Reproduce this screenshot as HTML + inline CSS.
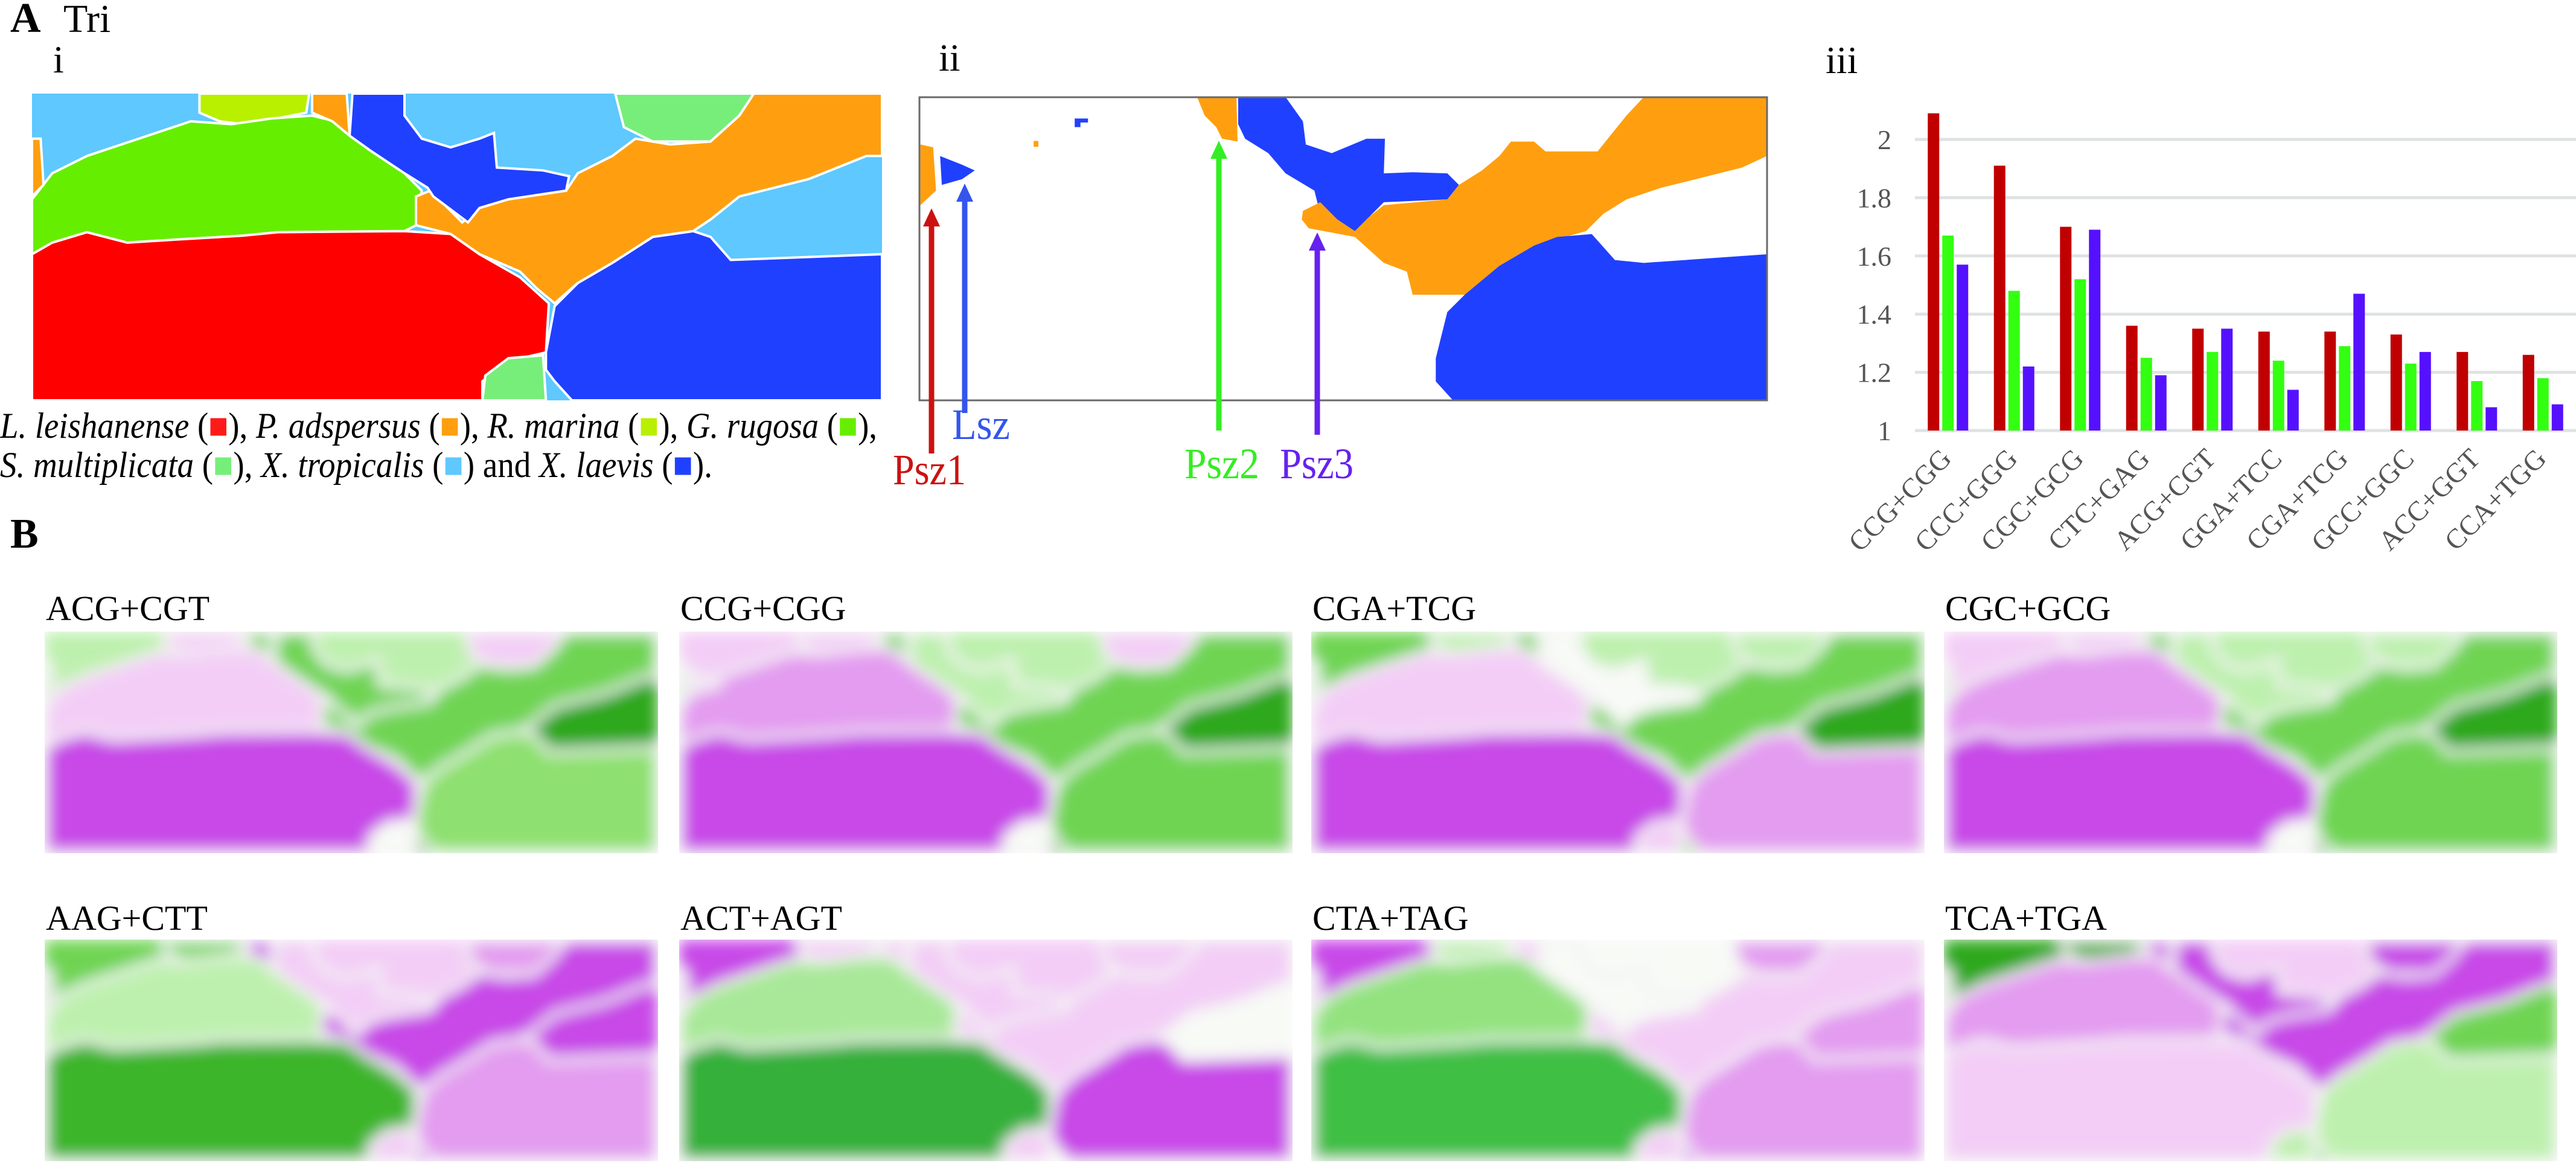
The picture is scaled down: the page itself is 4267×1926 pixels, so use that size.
<!DOCTYPE html>
<html><head><meta charset="utf-8"><style>
html,body{margin:0;padding:0;background:#fff;}
svg{display:block;font-family:"Liberation Serif",serif;}
svg text{font-family:"Liberation Serif",serif;}
</style></head><body>
<svg id="fig" width="4267" height="1926" viewBox="0 0 4267 1926" xmlns="http://www.w3.org/2000/svg">
<defs>
<filter id="blur" x="-5%" y="-5%" width="110%" height="110%"><feGaussianBlur stdDeviation="12"/></filter>
</defs>
<text x="17" y="53" font-size="70" font-weight="bold">A</text>
<text x="105" y="53" font-size="66">Tri</text>
<text x="88" y="120" font-size="64">i</text>
<text x="1555" y="117" font-size="64">ii</text>
<text x="3024" y="121" font-size="64">iii</text>
<text x="17" y="907" font-size="70" font-weight="bold">B</text>
<g id="mapi"></g>
<g id="mapii"></g>
<g id="legend">
<text x="0" y="725" font-size="60" textLength="1453" lengthAdjust="spacingAndGlyphs"><tspan font-style="italic">L. leishanense</tspan> (<tspan fill="#ff1a1a">■</tspan>), <tspan font-style="italic">P. adspersus</tspan> (<tspan fill="#ff9f10">■</tspan>), <tspan font-style="italic">R. marina</tspan> (<tspan fill="#b8f000">■</tspan>), <tspan font-style="italic">G. rugosa</tspan> (<tspan fill="#66ee00">■</tspan>),</text>
<text x="0" y="790" font-size="60" textLength="1180" lengthAdjust="spacingAndGlyphs"><tspan font-style="italic">S. multiplicata</tspan> (<tspan fill="#77ee7a">■</tspan>), <tspan font-style="italic">X. tropicalis</tspan> (<tspan fill="#5ec8ff">■</tspan>) and <tspan font-style="italic">X. laevis</tspan> (<tspan fill="#2040ff">■</tspan>).</text>
</g>
<g id="arrows"></g>
<g id="bars"></g>
<g id="heat"></g>
</svg>
<script>
// ---- bar chart data ----
const categories = ["CCG+CGG","CCC+GGG","CGC+GCG","CTC+GAG","ACG+CGT","GGA+TCC","CGA+TCG","GCC+GGC","ACC+GGT","CCA+TGG"];
const seriesRed = [2.09,1.91,1.70,1.36,1.35,1.34,1.34,1.33,1.27,1.26];
const seriesGreen = [1.67,1.48,1.52,1.25,1.27,1.24,1.29,1.23,1.17,1.18];
const seriesPurple = [1.57,1.22,1.69,1.19,1.35,1.14,1.47,1.27,1.08,1.09];
const yTicks = [1,1.2,1.4,1.6,1.8,2];
const heatLabels = ["ACG+CGT","CCG+CGG","CGA+TCG","CGC+GCG","AAG+CTT","ACT+AGT","CTA+TAG","TCA+TGA"];

const NS="http://www.w3.org/2000/svg";
function mk(tag,attrs,parent){const e=document.createElementNS(NS,tag);for(const k in attrs)e.setAttribute(k,attrs[k]);parent.appendChild(e);return e;}

const X0=3172,X1=4267,Y0=713,Y1=231;
const yScale=v=>Y0+(v-1)*(Y1-Y0)/(2-1);
const band=(X1-X0)/categories.length;
const xBand=i=>X0+i*band;
const bars=document.getElementById('bars');
yTicks.forEach(t=>{
  const l=mk('line',{x1:X0,x2:X1,y1:yScale(t),y2:yScale(t),stroke:'#dfe2e2','stroke-width':5},bars);
  
  
  const tx=mk('text',{x:3133,y:yScale(t)+16,'font-size':46,fill:'#555','text-anchor':'end'},bars);
  
  
  tx.textContent=t;
});
const series=[[seriesRed,'#c00000'],[seriesGreen,'#33ff11'],[seriesPurple,'#5511ff']];
const bw=19,stride=24;
categories.forEach((c,i)=>{
  const cx=xBand(i)+band/2;
  series.forEach(([arr,col],j)=>{
    const x=cx-stride-bw/2+j*stride;
    const y=yScale(arr[i]);
    const r=mk('rect',{x:x,y:y,width:bw,height:Y0-y,fill:col},bars);
    
    
  });
  const t=mk('text',{x:0,y:0,'font-size':46,fill:'#555','text-anchor':'end',transform:`translate(${cx+8},${762}) rotate(-45)`},bars);
  
  
  t.textContent=c;
});

function norm(pts){const o=[];for(let i=0;i<pts.length;i+=2)o.push([(pts[i]-55)/1472,(pts[i+1]-162)/531]);return o;}
const regions={
 red:norm([55,440,90,420,150,402,220,420,300,415,420,408,480,402,700,400,780,405,830,440,900,480,950,525,945,610,880,625,835,660,835,693,55,693]),
 smultBot:norm([835,693,840,650,880,620,940,615,945,693]),
 smultTop:norm([1065,162,1305,162,1280,200,1230,245,1130,245,1080,220]),
 blueBR:norm([945,610,960,530,1000,490,1060,455,1130,410,1200,400,1230,410,1265,450,1527,440,1527,693,990,693,960,660,945,640]),
 orange:norm([720,340,745,330,800,385,830,360,880,345,980,330,1000,300,1060,270,1100,240,1160,250,1230,245,1280,200,1305,162,1527,162,1527,270,1500,270,1400,310,1360,320,1280,340,1230,380,1200,400,1130,410,1060,455,1000,490,960,525,930,500,900,470,830,440,780,405,720,390]),
 orangeL:norm([55,240,70,240,75,320,55,340]),
 orangeT:norm([540,162,600,162,605,235,575,210,540,195]),
 rugosa:norm([55,345,90,300,150,270,240,240,330,210,400,215,470,205,540,200,580,210,640,260,700,300,730,330,720,390,700,400,480,402,420,408,300,415,220,420,150,402,90,420,55,440]),
 marina:norm([345,162,535,162,530,195,480,205,420,215,380,210,345,195]),
 blueUp:norm([610,162,700,162,700,200,730,240,780,255,830,240,855,230,860,290,940,295,985,305,980,330,880,345,830,360,810,385,790,370,750,340,740,325,700,300,640,260,605,235]),
 blueL:norm([90,260,140,280,150,290,100,305,88,300])
};
const order=['marina','rugosa','red','smultBot','smultTop','blueBR','orange','orangeL','orangeT','blueUp','blueL'];
const skyRects={skyTL:[0,0,0.4,0.5],skyMid:[0.4,0,0.35,0.45],skyR:[0.7,0,0.3,1]};
function drawRegions(g,x,y,w,h,colors,base,stroke,sw){
  const bg=mk('rect',{x:x,y:y,width:w,height:h,fill:base},g);
  
  
  for(const k in skyRects){
    if(!colors[k])continue;
    const [a,b,c,d]=skyRects[k];
    const r=mk('rect',{x:x+a*w,y:y+b*h,width:c*w,height:d*h,fill:colors[k]},g);
    
    
  }
  order.forEach(k=>{
    const key=k.replace(/[LT]$/,'');
    const col=colors[k]||colors[key];
    if(!col)return;
    const p=mk('polygon',{points:regions[k].map(([a,b])=>(x+a*w).toFixed(1)+','+(y+b*h).toFixed(1)).join(' '),fill:col},g);
    if(stroke){p.setAttribute('stroke',stroke);p.setAttribute('stroke-width',sw);}
    
    
  });
}
drawRegions(document.getElementById('mapi'),53,155,1408,508,{
 red:'#ff0000',smultBot:'#77ee7a',smultTop:'#77ee7a',blueBR:'#2040ff',orange:'#ff9f10',rugosa:'#66ee00',marina:'#b8f000',blueUp:'#2040ff'
},'#5ec8ff','#fff',4);

const mii=document.getElementById('mapii');
const s=0.957,ox=1450;
function P(arr,col,name){const pts=[];for(let i=0;i<arr.length;i+=2)pts.push((ox+arr[i]*s).toFixed(1)+','+(arr[i+1]*s).toFixed(1));const p=mk('polygon',{points:pts.join(' '),fill:col},mii);}
const frame=mk('rect',{x:1523,y:161,width:1404,height:502,fill:'#fff'},mii);


P([557,168,625,168,627,245,600,240,590,220,570,200],'#ff9f10','orange-top');
P([628,168,710,168,740,210,745,250,790,265,850,240,882,240,880,300,930,298,990,300,1010,320,990,345,880,350,855,375,830,400,800,380,770,370,760,330,710,300,680,265,640,240,628,215],'#2040ff','blue-upper');
P([740,365,770,350,800,380,830,400,855,375,880,355,990,345,1010,320,1050,295,1080,270,1100,245,1140,245,1160,262,1250,262,1300,200,1330,168,1543,168,1543,270,1500,290,1400,315,1360,325,1300,345,1260,370,1230,400,1140,425,1080,460,1020,510,930,510,920,470,880,455,830,410,750,395,738,380],'#ff9f10','orange-band');
P([970,620,990,540,1020,510,1080,460,1140,425,1180,410,1240,405,1280,450,1330,455,1543,440,1543,693,1000,693,970,660],'#2040ff','blue-lower');
P([78,250,100,255,105,330,78,355],'#ff9f10','orange-left');
P([112,270,150,285,172,295,150,310,115,320],'#2040ff','blue-left');
P([345,205,368,205,368,212,355,212,355,220,345,220],'#2040ff','blue-dot');
P([274,244,282,244,282,254,274,254],'#ff9f10','orange-dot');
const border=mk('rect',{x:1523,y:161,width:1404,height:502,fill:'none',stroke:'#6a6a6a','stroke-width':3},mii);



const ag=document.getElementById('arrows');
[[1543,345,751,'#cc1111','Psz1',1479,802,121],[1598,304,684,'#3355ee','Lsz',1577,727,96],[2019,233,713,'#33ee22','Psz2',1962,792,124],[2182,385,720,'#6622ee','Psz3',2120,792,122]].forEach(a=>{
  const [x,tip,bot,col,lab,lx,ly,lw]=a;
  const l=mk('line',{x1:x,x2:x,y1:tip+24,y2:bot,stroke:col,'stroke-width':9},ag);
  
  
  const h=mk('polygon',{points:`${x},${tip} ${x-14},${tip+30} ${x+14},${tip+30}`,fill:col},ag);
  
  
  const t=mk('text',{x:lx,y:ly,'font-size':72,fill:col,textLength:lw,lengthAdjust:'spacingAndGlyphs'},ag);
  
  
  t.textContent=lab;
});

const M='#c84ae8',Mp='#e39cf0',Pk='#f3cdf6',W='#f8faf6',Lg='#bdf0ae',G='#6fd452',Dg='#2ea81e';
const heatColors=[
 {base:Dg,skyTL:Lg,skyMid:Lg,skyR:Dg,red:M,rugosa:Pk,marina:Pk,blueUp:G,smultTop:Pk,smultBot:W,blueBR:'#8ee070',orange:G},
 {base:Dg,skyTL:Pk,skyMid:Lg,skyR:Dg,red:M,rugosa:Mp,marina:Pk,blueUp:Lg,smultTop:Pk,smultBot:W,blueBR:G,orange:G,blueL:Pk},
 {base:G,skyTL:G,skyMid:Lg,skyR:Dg,red:M,rugosa:Pk,marina:Lg,blueUp:W,smultTop:Lg,smultBot:Pk,blueBR:Mp,orange:G},
 {base:Dg,skyTL:Pk,skyMid:Lg,skyR:Dg,red:M,rugosa:Mp,marina:Pk,blueUp:Lg,smultTop:Lg,smultBot:W,blueBR:G,orange:G},
 {base:M,skyTL:G,skyMid:Pk,skyR:M,red:'#3cb52c',rugosa:Lg,marina:G,blueUp:Pk,smultTop:Mp,smultBot:Pk,blueBR:Mp,orange:M,orangeL:Dg},
 {base:W,skyTL:M,skyMid:Pk,skyR:W,red:'#34b03a',rugosa:'#a8e898',marina:Pk,blueUp:Pk,smultTop:Pk,smultBot:Pk,blueBR:M,orange:Pk,orangeL:M},
 {base:M,skyTL:M,skyMid:W,skyR:Mp,red:'#3fbf45',rugosa:'#93e27f',marina:Lg,blueUp:W,smultTop:Mp,smultBot:Pk,blueBR:Mp,orange:Pk,orangeL:M},
 {base:G,skyTL:Dg,skyMid:Pk,skyR:G,red:Pk,rugosa:Mp,marina:Dg,blueUp:M,smultTop:M,smultBot:Lg,blueBR:Lg,orange:M,orangeL:Dg}
];
const hx=[74,1125,2172,3220],hy=[1046,1556],hw=1016,hh=367,ly=[1027,1540];
const hg=document.getElementById('heat');
heatLabels.forEach((lab,i)=>{
  const c=i%4,r=Math.floor(i/4);
  const t=mk('text',{x:hx[c]+2,y:ly[r],'font-size':58},hg);
  
  
  t.textContent=lab;
  const cp=mk('clipPath',{id:'cp'+i},hg);
  mk('rect',{x:hx[c],y:hy[r],width:hw,height:hh},cp);
  const g=mk('g',{'clip-path':`url(#cp${i})`},hg);
  
  
  const inner=mk('g',{filter:'url(#blur)'},g);
  const col=heatColors[i];
  drawRegions(inner,hx[c],hy[r],hw,hh,col,col.base,'#f4f4f4',10);
});
</script>
</body></html>
